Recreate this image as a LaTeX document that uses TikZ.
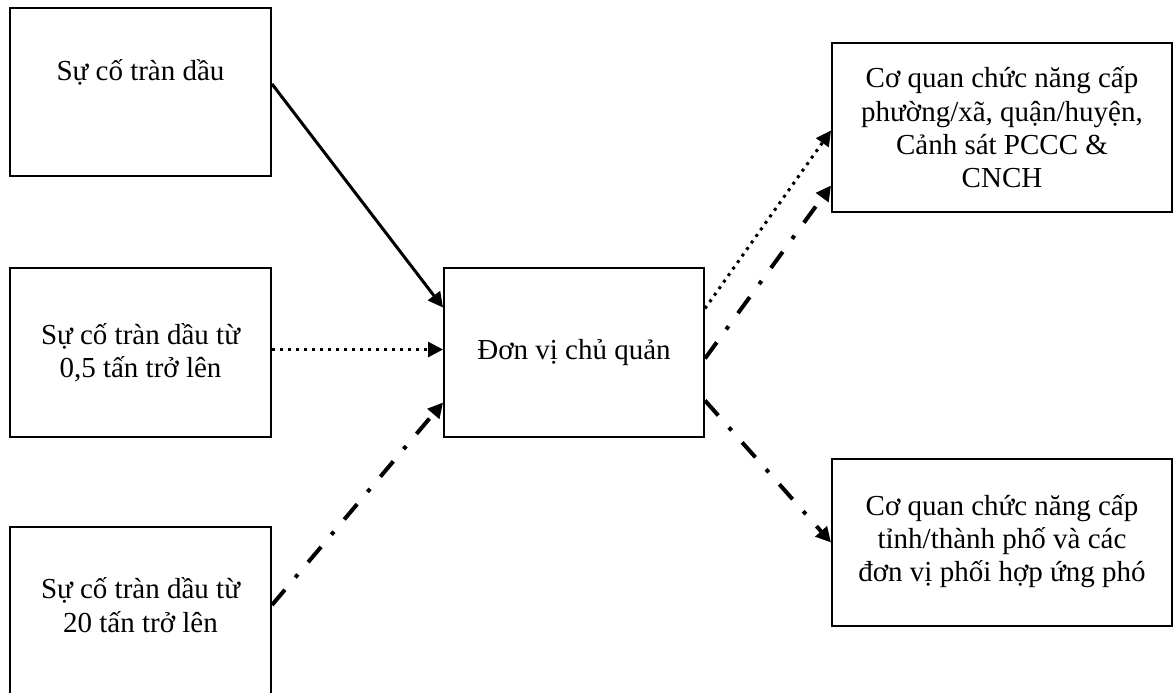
\documentclass[tikz,border=0pt]{standalone}
\usepackage{fontspec}
\setmainfont{Liberation Serif}
\usetikzlibrary{arrows.meta}
\usetikzlibrary{calc}
\tikzset{>={Triangle[length=7.5pt,width=7.5pt]}}

\begin{document}
\begin{tikzpicture}[x=0.5pt, y=-0.5pt]
            \tikzset{box/.style={draw, line width=1pt, rectangle, align=center, inner sep=0pt, font={\fontsize{14.5}{16.7}\selectfont}}};
            \tikzset{solid arrow/.style={->, line width=1.5pt}}
            \tikzset{dotted arrow/.style={->, line width=1.5pt, dash pattern=on 1.5pt off 2.5pt}}
            \tikzset{dashdot arrow/.style={->, line width=2pt, dash pattern=on 10pt off 8pt on 2pt off 8pt}}
            \useasboundingbox (0, 0) rectangle (1174, 692);
            % Incidents
            \node[box, minimum width=130.5pt, minimum height=84pt, text height=12pt, text depth=24pt] (spill) at (140.5, 92) {Sự cố tràn dầu};
            \node[box, minimum width=130.5pt, minimum height=84.5pt] (halfton) at (140.5, 352.5) {Sự cố tràn dầu từ\\0,5 tấn trở lên};
            \node[box, minimum width=130.5pt, minimum height=84pt, text depth=6pt] (twentyton) at (140.5, 611) {Sự cố tràn dầu từ\\20 tấn trở lên};
            % Owner unit
            \node[box, minimum width=130pt, minimum height=84.5pt] (unit) at (574, 352.5) {Đơn vị chủ quản};
            % Authorities
            \node[box, minimum width=170pt, minimum height=84.5pt] (local) at (1002, 127.5) {Cơ quan chức năng cấp\\phường/xã, quận/huyện,\\Cảnh sát PCCC \&\\CNCH};
            \node[box, minimum width=170pt, minimum height=83.5pt, text depth=4.5pt] (province) at (1002, 542.5) {Cơ quan chức năng cấp\\tỉnh/thành phố và các\\đơn vị phối hợp ứng phó};
            % Reports
            \draw[solid arrow] ($(spill.east)+(0,-8)$) -- ($(unit.west)+(0,-45)$);
            \draw[dotted arrow] ($(halfton.east)+(0,-3)$) -- ($(unit.west)+(0,-3)$);
            \draw[dashdot arrow] ($(twentyton.east)+(0,-6)$) -- ($(unit.west)+(0,50)$);
            \draw[dotted arrow] ($(unit.east)+(0,-44)$) -- ($(local.west)+(0,3)$);
            \draw[dashdot arrow] ($(unit.east)+(0,6)$) -- ($(local.west)+(0,58)$);
            \draw[dashdot arrow] ($(unit.east)+(0,48)$) -- (province.west);
\end{tikzpicture}
\end{document}
